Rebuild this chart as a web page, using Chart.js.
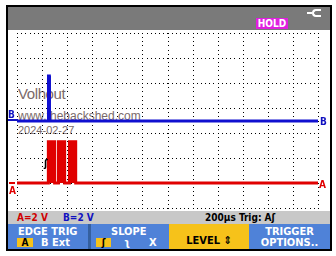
<!DOCTYPE html>
<html>
<head>
<meta charset="utf-8">
<script src="https://cdn.jsdelivr.net/npm/chart.js@4"></script>
<style>
  html, body { margin: 0; padding: 0; background: #fff; }
  #screen { position: relative; width: 336px; height: 256px; overflow: hidden; background: #fff; }
  #frame { position: absolute; left: 6px; top: 5px; width: 322px; height: 242px; border: 2px solid #000; }
  .abs { position: absolute; white-space: nowrap; }
  .lbl { font-family: "DejaVu Sans Condensed", "DejaVu Sans", sans-serif; font-stretch: condensed; font-weight: bold; }
  .wm { font-family: "Liberation Sans", Arial, sans-serif; color: #7a6a6a; }
  canvas { position: absolute; left: 0; top: 0; }
</style>
</head>
<body>
<div id="screen">
  <div id="frame"></div>
  <!-- header -->
  <div class="abs" style="left:8px;top:7px;width:322px;height:23px;background:#7a7a7a;"></div>
  <div class="abs lbl" style="left:256px;top:18px;width:32px;height:11px;background:#e020e0;color:#fff;font-size:10px;line-height:11px;text-align:center;">HOLD</div>
  <div class="abs" style="left:307px;top:12px;width:5px;height:2px;background:#fff;"></div>
  <div class="abs" style="left:312px;top:9px;width:7px;height:4px;border:2px solid #fff;border-right:none;border-radius:4px 0 0 4px;"></div>

  <!-- watermark text behind the traces -->
  <div class="abs wm" style="left:18px;top:86px;font-size:15px;line-height:15px;letter-spacing:-0.4px;">Volhout</div>
  <div class="abs wm" style="left:18px;top:110px;font-size:12px;line-height:12px;">www.thebackshed.com</div>
  <div class="abs wm" style="left:18px;top:125px;font-size:11px;line-height:11px;">2024-02-27</div>

  <!-- status bar -->
  <div class="abs" style="left:8px;top:211px;width:322px;height:13px;background:#c8c8c8;"></div>
  <div class="abs lbl" style="left:17px;top:212px;font-size:10px;line-height:11px;color:#d00000;">A=2 V</div>
  <div class="abs lbl" style="left:63px;top:212px;font-size:10px;line-height:11px;color:#1010c0;">B=2 V</div>
  <div class="abs lbl" style="left:205px;top:212px;font-size:10px;line-height:11px;color:#000;">200µs Trig: Aʃ</div>

  <!-- function keys -->
  <div class="abs" style="left:8px;top:224px;width:80px;height:25px;background:#4f82d8;"></div>
  <div class="abs" style="left:88px;top:224px;width:3px;height:25px;background:#35609f;"></div>
  <div class="abs" style="left:91px;top:224px;width:78px;height:25px;background:#4f82d8;"></div>
  <div class="abs" style="left:169px;top:224px;width:80px;height:25px;background:#f6c21a;"></div>
  <div class="abs" style="left:249px;top:224px;width:81px;height:25px;background:#4f82d8;"></div>

  <div class="abs lbl" style="left:18px;top:226px;font-size:11px;line-height:11px;color:#fff;">EDGE TRIG</div>
  <div class="abs lbl" style="left:17px;top:238px;width:16px;height:9px;background:#f6c21a;color:#000;font-size:10px;line-height:9px;text-align:center;">A</div>
  <div class="abs lbl" style="left:41px;top:237px;font-size:11px;line-height:11px;color:#fff;">B Ext</div>

  <div class="abs lbl" style="left:111px;top:226px;font-size:11px;line-height:11px;color:#fff;">SLOPE</div>
  <div class="abs lbl" style="left:96px;top:238px;width:15px;height:9px;background:#f6c21a;color:#000;font-size:10px;line-height:9px;text-align:center;">ʃ</div>
  <div class="abs lbl" style="left:124px;top:237px;font-size:11px;line-height:11px;color:#fff;">ʅ</div>
  <div class="abs lbl" style="left:149px;top:237px;font-size:11px;line-height:11px;color:#fff;">X</div>

  <div class="abs lbl" style="left:169px;top:235px;width:80px;text-align:center;font-size:11px;line-height:11px;color:#000;">LEVEL ⇕</div>

  <div class="abs lbl" style="left:249px;top:226px;width:81px;text-align:center;font-size:11px;line-height:11px;color:#fff;">TRIGGER</div>
  <div class="abs lbl" style="left:249px;top:237px;width:81px;text-align:center;font-size:11px;line-height:11px;color:#fff;">OPTIONS..</div>

  <canvas id="scope" width="336" height="256"></canvas>

  <!-- channel markers -->
  <div class="abs lbl" style="left:8px;top:109px;font-size:10px;line-height:11px;color:#1010c0;">B</div>
  <div class="abs" style="left:8px;top:119px;width:10px;height:2px;background:#1010c0;"></div>
  <div class="abs lbl" style="left:320px;top:116px;font-size:10px;line-height:11px;color:#1010c0;">B</div>
  <div class="abs" style="left:9px;top:182px;width:6px;height:2px;background:#e00000;"></div>
  <div class="abs lbl" style="left:9px;top:185px;font-size:10px;line-height:11px;color:#e00000;">A</div>
  <div class="abs lbl" style="left:319px;top:179px;font-size:10px;line-height:11px;color:#e00000;">A</div>
  <div class="abs lbl" style="left:44px;top:158px;font-size:10px;line-height:11px;color:#000;">ʃ</div>
</div>

<script>
// Time base: 12 divisions of 200 us
const timeDivs = 12;
const usPerDiv = 200;
const voltsPerDiv = 2;
const verticalDivs = 7;

// Channel A (red): three bursts after the trigger
const aTimes = [0, 250, 250, 300, 300, 330, 330, 380, 380, 418, 418, 468, 468, 2400];
const aVolts = [0, 0, 3.3, 3.3, 0, 0, 3.3, 3.3, 0, 0, 3.3, 3.3, 0, 0];

// Channel B (blue): one short spike
const bTimes = [0, 250, 251, 258, 259, 2400];
const bVolts = [0, 0, 3.6, 3.6, 0, 0];

// zero level of each channel, in divisions from the bottom of the grid
const aZeroDiv = 1;
const bZeroDiv = 3.48;

function toPoints(times, volts) {
  return times.map((t, i) => ({ x: t, y: volts[i] }));
}

// Dotted scope graticule, 6 dots per division, on the tick positions of the x and div scales
const dotsPerDiv = 6;
const dottedGrid = {
  id: "dottedGrid",
  beforeDatasetsDraw(chart) {
    const c = chart.ctx;
    const xs = chart.scales.x;
    const ys = chart.scales.div;
    const xStep = (xs.getPixelForValue(usPerDiv) - xs.getPixelForValue(0)) / dotsPerDiv;
    const yStep = (ys.getPixelForValue(0) - ys.getPixelForValue(1)) / dotsPerDiv;
    const top = ys.getPixelForValue(verticalDivs);
    const bottom = ys.getPixelForValue(0);
    const left = xs.getPixelForValue(0);
    const right = xs.getPixelForValue(timeDivs * usPerDiv);
    c.save();
    c.fillStyle = "#000";
    xs.ticks.forEach(t => {
      const px = Math.round(xs.getPixelForValue(t.value));
      for (let y = top; y <= bottom + 0.5; y += yStep) c.fillRect(px, Math.round(y), 1, 1);
    });
    ys.ticks.forEach(t => {
      const py = Math.round(ys.getPixelForValue(t.value));
      for (let x = left; x <= right + 0.5; x += xStep) c.fillRect(Math.round(x), py, 1, 1);
    });
    c.restore();
  }
};

const ctx = document.getElementById("scope").getContext("2d");
new Chart(ctx, {
  type: "line",
  data: {
    datasets: [
      {
        label: "A",
        data: toPoints(aTimes, aVolts),
        yAxisID: "yA",
        borderColor: "#e00000",
        backgroundColor: "#e00000",
        borderWidth: 3,
        fill: { value: 0 },
        pointRadius: 0,
        tension: 0
      },
      {
        label: "B",
        data: toPoints(bTimes, bVolts),
        yAxisID: "yB",
        borderColor: "#1010d0",
        backgroundColor: "#1010d0",
        borderWidth: 3,
        fill: { value: 0 },
        pointRadius: 0,
        tension: 0
      }
    ]
  },
  plugins: [dottedGrid],
  options: {
    responsive: false,
    animation: false,
    devicePixelRatio: 1,
    layout: { padding: { left: 17, right: 18, top: 33, bottom: 48 } },
    plugins: { legend: { display: false }, tooltip: { enabled: false } },
    scales: {
      x: {
        type: "linear",
        min: 0,
        max: timeDivs * usPerDiv,
        ticks: { display: false, stepSize: usPerDiv },
        grid: { display: false, drawTicks: false },
        border: { display: false }
      },
      div: {
        type: "linear",
        position: "left",
        min: 0,
        max: verticalDivs,
        ticks: { display: false, stepSize: 1 },
        grid: { display: false, drawTicks: false },
        border: { display: false }
      },
      yA: {
        type: "linear",
        display: false,
        min: -aZeroDiv * voltsPerDiv,
        max: (verticalDivs - aZeroDiv) * voltsPerDiv
      },
      yB: {
        type: "linear",
        display: false,
        min: -bZeroDiv * voltsPerDiv,
        max: (verticalDivs - bZeroDiv) * voltsPerDiv
      }
    }
  }
});
</script>
</body>
</html>
